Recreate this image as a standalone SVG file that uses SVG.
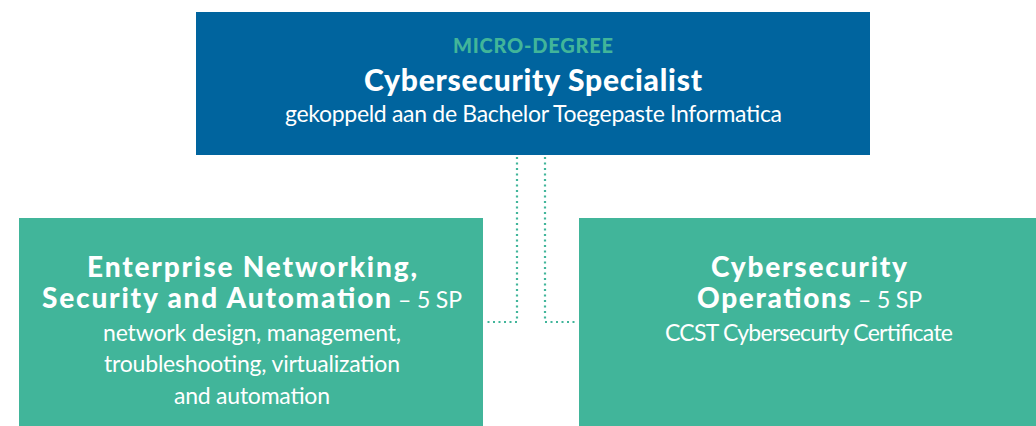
<svg xmlns="http://www.w3.org/2000/svg" width="1036" height="426" viewBox="0 0 1036 426">
<style>
.t{font-family:Lato,"Noto Sans","Liberation Sans",sans-serif;fill:#fff}
.m{text-anchor:middle}
.s{text-anchor:start}
.b{font-weight:900;font-size:28px}
.r{font-weight:400;font-size:23px}
.con{fill:none;stroke:#41B59A;stroke-width:2.2;stroke-dasharray:2 3.5}
</style>
<rect width="1036" height="426" fill="#fff"/>
<g id="connectors">
<path class="con" d="M517 157V322H485"/>
<path class="con" d="M545 157V322H578"/>
</g>
<g id="top">
<rect x="196" y="12" width="674" height="143" fill="#00649E"/>
<text class="t m" x="533" y="53" style="font-weight:900;font-size:20px;fill:#41B59A" textLength="160">MICRO-DEGREE</text>
<text class="t m b" x="533" y="91" style="font-size:30px" textLength="338">Cybersecurity Specialist</text>
<text class="t m r" x="533.5" y="122" textLength="497">gekoppeld aan de Bachelor Toegepaste Informatica</text>
</g>
<g id="left">
<rect x="19" y="218" width="464" height="208" fill="#41B59A"/>
<text class="t m b" x="252" y="277" textLength="330">Enterprise Networking,</text>
<text class="t s b" x="42" y="308" textLength="349">Security and Automation</text>
<text class="t s r" x="398" y="308" textLength="64">– 5 SP</text>
<text class="t m r" x="252" y="341" textLength="298">network design, management,</text>
<text class="t m r" x="252" y="372" textLength="296">troubleshooting, virtualization</text>
<text class="t m r" x="252" y="404" textLength="156">and automation</text>
</g>
<g id="right">
<rect x="579" y="218" width="457" height="208" fill="#41B59A"/>
<text class="t m b" x="809" y="277" textLength="196">Cybersecurity</text>
<text class="t s b" x="697" y="308" textLength="154">Operations</text>
<text class="t s r" x="858" y="308" textLength="64">– 5 SP</text>
<text class="t m r" x="809" y="341" textLength="288">CCST Cybersecurty Certificate</text>
</g>
</svg>
